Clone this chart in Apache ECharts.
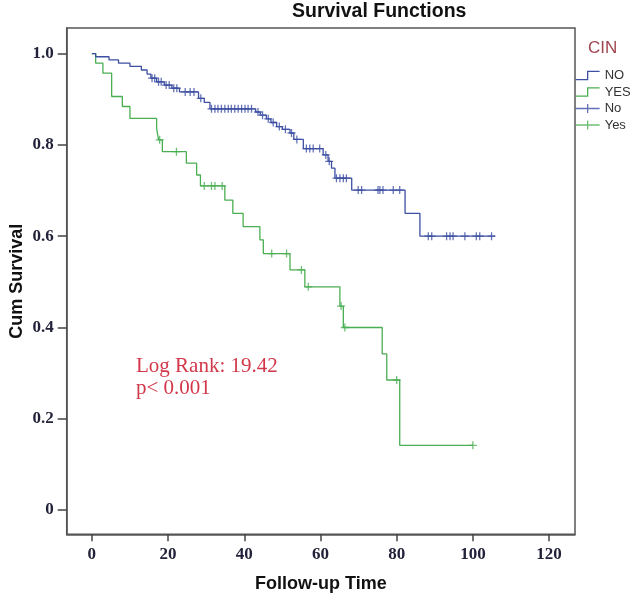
<!DOCTYPE html>
<html>
<head>
<meta charset="utf-8">
<script src="https://cdn.jsdelivr.net/npm/echarts@6/dist/echarts.min.js"></script>
<style>
html,body{margin:0;padding:0;background:#fff;}
#chart{width:639px;height:596px;}
</style>
</head>
<body>
<div id="chart"></div>
<script>
// Tick labels
const xTickValues = [0, 20, 40, 60, 80, 100, 120];
const yTickValues = [0, 0.2, 0.4, 0.6, 0.8, 1.0];
const yTickLabels = ['0', '0.2', '0.4', '0.6', '0.8', '1.0'];

// CIN = NO : step points (time, survival after step)
const noTimes = [0, 1, 4.5, 7, 10, 13, 14.5, 15.5, 17, 19, 21, 23, 28, 29.5, 31, 43, 44.2, 45.8, 47, 48.5, 50, 52, 53, 55.5, 60.7, 62, 62.9, 63.8, 68.2, 82.2, 86.1, 105.8];
const noSurv  = [1.0, 0.993, 0.986, 0.979, 0.972, 0.964, 0.955, 0.946, 0.938, 0.931, 0.924, 0.916, 0.902, 0.893, 0.879, 0.872, 0.865, 0.857, 0.849, 0.840, 0.834, 0.826, 0.812, 0.792, 0.778, 0.764, 0.749, 0.727, 0.701, 0.650, 0.600, 0.600];
// CIN = NO : censored
const noCensorTimes = [15.8, 16.5, 17.5, 18.2, 19.5, 20.3, 21.5, 22.3, 24.5, 25.8, 26.8, 28.6, 31.4, 32.3, 33.1, 34.0, 34.9, 35.8, 36.6, 37.5, 38.4, 39.3, 40.2, 41.0, 41.9, 43.6, 44.8, 46.3, 47.6, 49.2, 50.8, 52.4, 53.8, 56.3, 57.2, 58.1, 59.8, 61.4, 62.3, 64.2, 65.1, 66.0, 66.8, 69.9, 70.8, 75.1, 75.6, 76.4, 79.1, 80.8, 88.3, 89.2, 93.1, 94.0, 94.8, 97.9, 100.9, 101.8, 104.9];
const noCensorSurv  = [0.946, 0.946, 0.938, 0.938, 0.931, 0.931, 0.924, 0.924, 0.916, 0.916, 0.916, 0.902, 0.879, 0.879, 0.879, 0.879, 0.879, 0.879, 0.879, 0.879, 0.879, 0.879, 0.879, 0.879, 0.879, 0.872, 0.865, 0.857, 0.849, 0.840, 0.834, 0.826, 0.812, 0.792, 0.792, 0.792, 0.792, 0.778, 0.764, 0.727, 0.727, 0.727, 0.727, 0.701, 0.701, 0.701, 0.701, 0.701, 0.701, 0.701, 0.600, 0.600, 0.600, 0.600, 0.600, 0.600, 0.600, 0.600, 0.600];

// CIN = YES : step points
const yesTimes = [0, 1.0, 2.9, 5.2, 8.0, 10.0, 17.0, 17.5, 18.5, 24.8, 27.5, 28.5, 34.9, 37.0, 39.7, 44.1, 45.0, 52.0, 55.9, 65.1, 66.0, 76.2, 77.4, 80.8, 100];
const yesSurv  = [1.0, 0.979, 0.957, 0.906, 0.884, 0.858, 0.836, 0.811, 0.785, 0.760, 0.734, 0.710, 0.679, 0.650, 0.621, 0.592, 0.562, 0.526, 0.489, 0.447, 0.400, 0.342, 0.285, 0.142, 0.142];
// CIN = YES : censored
const yesCensorTimes = [17.8, 22.2, 29.5, 31.4, 32.3, 34.2, 47.2, 51.1, 55.0, 56.8, 65.4, 66.4, 80.0, 100];
const yesCensorSurv  = [0.811, 0.785, 0.710, 0.710, 0.710, 0.710, 0.562, 0.562, 0.526, 0.489, 0.447, 0.400, 0.285, 0.142];

const BLUE = '#3d4fa3';
const GREEN = '#4aae52';
const plusPath = 'path://M4.2,0 L5.8,0 L5.8,4.2 L10,4.2 L10,5.8 L5.8,5.8 L5.8,10 L4.2,10 L4.2,5.8 L0,5.8 L0,4.2 L4.2,4.2 Z';

const zip = (a, b) => a.map((v, i) => [v, b[i]]);

const chart = echarts.init(document.getElementById('chart'), null, {renderer: 'canvas'});
const labelStyle = {fontFamily: 'Liberation Serif', fontWeight: 'bold', fontSize: 17, color: '#22223a'};

chart.setOption({
  animation: false,
  backgroundColor: '#fff',
  title: {
    text: 'Survival Functions',
    left: 292, top: 2, padding: 0,
    textStyle: {fontFamily: 'Liberation Sans', fontWeight: 'bold', fontSize: 19.5, color: '#111'}
  },
  grid: {left: 66.7, right: 64, top: 28, bottom: 61.7, outerBoundsMode: 'none', containLabel: false, show: true, borderColor: '#555', borderWidth: 1.5, backgroundColor: 'transparent'},
  xAxis: {
    type: 'value', min: -6.6, max: 126.8,
    name: 'Follow-up Time', nameLocation: 'middle', nameGap: 41, nameMoveOverlap: false,
    nameTextStyle: {fontFamily: 'Liberation Sans', fontWeight: 'bold', fontSize: 18, color: '#111'},
    axisLine: {show: true, onZero: false, lineStyle: {color: '#555', width: 1.5}},
    axisTick: {show: true, length: 7, customValues: xTickValues, lineStyle: {color: '#444', width: 1.5}},
    axisLabel: Object.assign({margin: 12, customValues: xTickValues}, labelStyle),
    splitLine: {show: false}
  },
  yAxis: {
    type: 'value', min: -0.053, max: 1.056,
    name: 'Cum Survival', nameLocation: 'middle', nameGap: 41, nameMoveOverlap: false,
    nameTextStyle: {fontFamily: 'Liberation Sans', fontWeight: 'bold', fontSize: 18, color: '#111'},
    axisLine: {show: true, onZero: false, lineStyle: {color: '#555', width: 1.5}},
    axisTick: {show: true, length: 9, customValues: yTickValues, lineStyle: {color: '#444', width: 1.5}},
    axisLabel: Object.assign({
      margin: 13, customValues: yTickValues,
      formatter: v => { const i = yTickValues.findIndex(t => Math.abs(t - v) < 1e-6); return i >= 0 ? yTickLabels[i] : ''; }
    }, labelStyle),
    splitLine: {show: false}
  },
  legend: {
    orient: 'vertical', left: 575, top: 69, padding: 0, itemWidth: 24, itemHeight: 11, itemGap: 3.5,
    textStyle: {fontFamily: 'Liberation Sans', fontSize: 13, color: '#333'},
    data: [
      {name: 'NO', icon: 'path://M0,10 L13,10 L13,1 L26,1', itemStyle: {color: 'transparent', borderColor: BLUE, borderWidth: 1.3}},
      {name: 'YES', icon: 'path://M0,10 L13,10 L13,1 L26,1', itemStyle: {color: 'transparent', borderColor: GREEN, borderWidth: 1.3}},
      {name: 'No', icon: 'path://M0,6 L26,6 M13,1 L13,11', itemStyle: {color: 'transparent', borderColor: BLUE, borderWidth: 1.3}},
      {name: 'Yes', icon: 'path://M0,6 L26,6 M13,1 L13,11', itemStyle: {color: 'transparent', borderColor: GREEN, borderWidth: 1.3}}
    ]
  },
  graphic: [
    {type: 'text', left: 588, top: 40, style: {text: 'CIN', fontFamily: 'Liberation Sans', fontSize: 17, fill: '#a0454f'}},
    {type: 'text', left: 136, top: 355, style: {text: 'Log Rank: 19.42\np< 0.001', fontFamily: 'Liberation Serif', fontSize: 21, lineHeight: 22, fill: '#d2384a'}}
  ],
  series: [
    {name: 'NO', type: 'line', step: 'end', data: zip(noTimes, noSurv), showSymbol: false, lineStyle: {color: BLUE, width: 1.3}, itemStyle: {color: BLUE}, z: 3},
    {name: 'YES', type: 'line', step: 'end', data: zip(yesTimes, yesSurv), showSymbol: false, lineStyle: {color: GREEN, width: 1.3}, itemStyle: {color: GREEN}, z: 2},
    {name: 'No', type: 'scatter', data: zip(noCensorTimes, noCensorSurv), symbol: plusPath, symbolSize: 8, itemStyle: {color: BLUE}, z: 4},
    {name: 'Yes', type: 'scatter', data: zip(yesCensorTimes, yesCensorSurv), symbol: plusPath, symbolSize: 8, itemStyle: {color: GREEN}, z: 4}
  ]
});
</script>
</body>
</html>
